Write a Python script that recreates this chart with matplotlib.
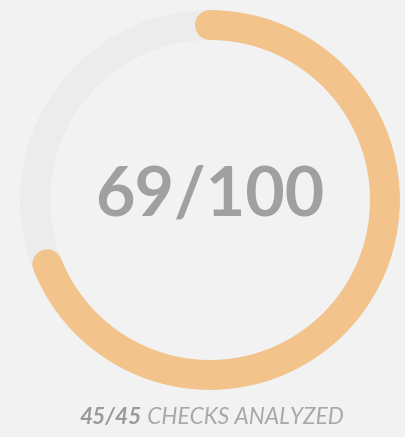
import numpy as np
import matplotlib
matplotlib.use("Agg")
from matplotlib import pyplot as plt

# values of the gauge
score = 69
score_max = 100
checks_done = 45
checks_total = 45

bg = "#f2f2f2"
track_color = "#ececec"
arc_color = "#f2c48c"
text_color = "#a0a0a0"

W, H = 406, 437
fig = plt.figure(figsize=(W / 100, H / 100), dpi=100, facecolor=bg)

# polar axes: square of 380 px around the ring centre (210, 200)
ax = fig.add_axes([20 / W, (H - 390) / H, 380 / W, 380 / H], projection="polar")
ax.patch.set_alpha(0)
ax.set_theta_zero_location("N")
ax.set_theta_direction(-1)
ax.set_ylim(0, 190)
ax.axis("off")

lw = 30 * 0.72  # 30 px stroke
ring_r = 175

theta_all = np.linspace(0, 2 * np.pi, 400)
ax.plot(theta_all, np.full_like(theta_all, ring_r), color=track_color,
        lw=lw, solid_capstyle="butt")

frac = score / score_max
theta = np.linspace(0, 2 * np.pi * frac, 300)
ax.plot(theta, np.full_like(theta, ring_r), color=arc_color,
        lw=lw, solid_capstyle="round")

# centre label
fig.text(210 / W, 1 - 196 / H, f"{score}/{score_max}", ha="center", va="center",
         fontsize=49, color=text_color, family="Lato", fontweight="bold")

# bottom caption: bold part + normal part
t1 = fig.text(80 / W, 1 - 424 / H, f"{checks_done}/{checks_total}", ha="left",
              va="baseline", fontsize=16.3, color="#999999", family="Lato",
              fontweight="bold", style="italic")
ax.annotate(" CHECKS ANALYZED", xy=(1, 0), xycoords=t1, xytext=(0, 0),
            textcoords="offset points", ha="left", va="bottom",
            color="#a8a8a8", family="Lato", fontsize=16.3, style="italic",
            annotation_clip=False)

fig.savefig("out.png", dpi=100, facecolor=bg)
